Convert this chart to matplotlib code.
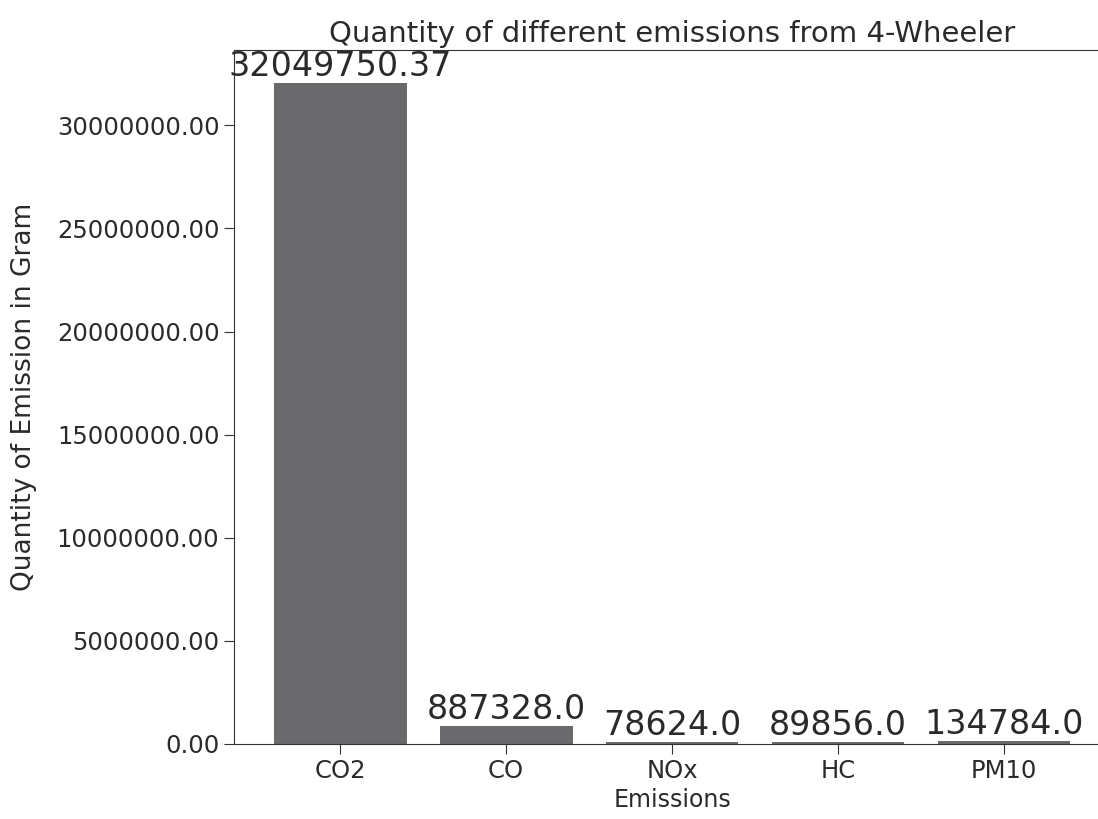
import matplotlib.pyplot as plt

# emissions data for 4-wheeler
emissions = ['CO2', 'CO', 'NOx', 'HC', 'PM10']
quantities = [32049750.37, 887328.0, 78624.0, 89856.0, 134784.0]
labels = ['32049750.37', '887328.0', '78624.0', '89856.0', '134784.0']

fig = plt.figure(figsize=(10.98, 8.19), dpi=100)
ax = fig.add_axes([0.2131, 0.0916, 0.798, 0.8474])

bars = ax.bar(emissions, quantities, color='#6a6a6d', width=0.8)
for i, v in enumerate(quantities):
    ax.text(i, v, labels[i], ha='center', va='bottom', fontsize=24, color='#2a2a2a')

ax.yaxis.set_major_formatter(plt.FuncFormatter(lambda y, _: f"{y:.2f}"))
ax.tick_params(labelsize=17.5, length=7, colors='#333333', labelcolor='#2a2a2a')
for s in ax.spines.values():
    s.set_color('#333333')
ax.set_xlabel('Emissions', fontsize=17, color='#2a2a2a')
ax.set_ylabel('Quantity of Emission in Gram', fontsize=19, color='#2a2a2a', labelpad=14)
ax.set_title('Quantity of different emissions from 4-Wheeler', fontsize=21, color='#2a2a2a')

plt.savefig('out.png', dpi=100)
plt.close()
